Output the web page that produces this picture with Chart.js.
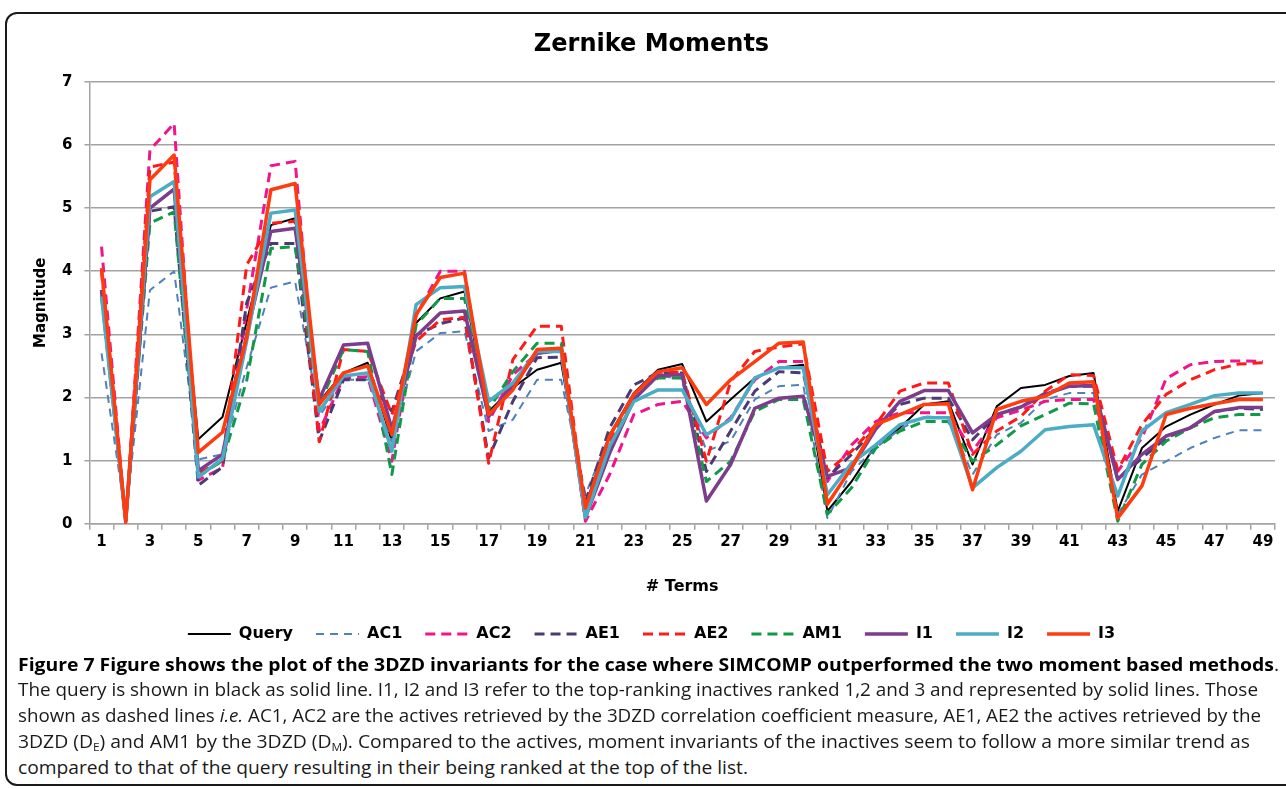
<!DOCTYPE html>
<html>
<head>
<meta charset="utf-8">
<script src="https://cdn.jsdelivr.net/npm/chart.js@4"></script>
<style>
  html, body { margin:0; padding:0; background:#fff; width:1286px; height:789px; overflow:hidden; }
  #frame { position:absolute; left:5px; top:12px; width:1300px; height:774px; border:2px solid #1a1a1a; border-radius:12px; box-sizing:border-box; }
  #wrap { position:absolute; left:18px; top:0px; width:1268px; height:660px; }
  .cap { position:absolute; left:18px; height:26px; line-height:26px; font-family:"Open Sans", sans-serif; font-size:18px; color:#1a1a1a; white-space:nowrap; }
  .cap span.in { display:inline-block; transform-origin:0 50%; }
  .cap b { font-weight:700; color:#000; }
  .cap sub { font-size:11px; vertical-align:-3px; line-height:0; }
</style>
</head>
<body>
<div id="frame"></div>
<div id="wrap"><canvas id="c" width="1268" height="660"></canvas></div>

<div class="cap" style="top:651px" data-w="1261"><span class="in"><b>Figure 7 Figure shows the plot of the 3DZD invariants for the case where SIMCOMP outperformed the two moment based methods</b>.</span></div>
<div class="cap" style="top:676px" data-w="1240"><span class="in">The query is shown in black as solid line. I1, I2 and I3 refer to the top-ranking inactives ranked 1,2 and 3 and represented by solid lines. Those</span></div>
<div class="cap" style="top:702px" data-w="1243"><span class="in">shown as dashed lines <i>i.e.</i> AC1, AC2 are the actives retrieved by the 3DZD correlation coefficient measure, AE1, AE2 the actives retrieved by the</span></div>
<div class="cap" style="top:728px" data-w="1232"><span class="in">3DZD (D<sub>E</sub>) and AM1 by the 3DZD (D<sub>M</sub>). Compared to the actives, moment invariants of the inactives seem to follow a more similar trend as</span></div>
<div class="cap" style="top:754px" data-w="730"><span class="in">compared to that of the query resulting in their being ranked at the top of the list.</span></div>

<script>
const terms = ['1','2','3','4','5','6','7','8','9','10','11','12','13','14','15','16','17','18','19','20','21','22','23','24','25','26','27','28','29','30','31','32','33','34','35','36','37','38','39','40','41','42','43','44','45','46','47','48','49'];

const seriesNames = ['Query','AC1','AC2','AE1','AE2','AM1','I1','I2','I3'];

const query = [3.6,0.05,5.0,5.31,1.34,1.69,3.2,4.73,4.84,1.94,2.39,2.55,1.31,3.18,3.57,3.68,1.78,2.15,2.44,2.55,0.3,1.41,2.07,2.44,2.53,1.62,1.97,2.31,2.47,2.52,0.2,0.67,1.25,1.52,1.89,1.94,0.94,1.86,2.15,2.2,2.34,2.39,0.2,1.2,1.54,1.73,1.89,2.03,2.07];
const ac1 = [2.7,0.1,3.7,4.0,1.02,1.1,2.48,3.74,3.84,1.7,2.28,2.28,1.3,2.73,3.02,3.05,1.47,1.65,2.28,2.28,0.46,1.41,1.99,2.34,2.3,1.15,1.31,1.97,2.18,2.2,0.09,0.83,1.2,1.5,1.7,1.68,0.78,1.41,1.6,1.97,2.07,2.07,0.15,0.78,0.99,1.2,1.36,1.48,1.48];
const ac2 = [4.39,0.02,5.92,6.34,0.69,0.89,3.4,5.67,5.74,1.47,2.31,2.33,0.99,3.3,4.0,4.0,1.62,2.36,2.7,2.75,0.04,0.78,1.73,1.89,1.94,1.36,1.68,2.28,2.57,2.57,0.67,1.25,1.62,1.76,1.76,1.76,1.15,1.68,1.8,1.94,1.97,1.97,0.83,1.36,2.3,2.52,2.57,2.58,2.57];
const ae1 = [3.7,0.05,4.95,5.02,0.61,0.9,3.5,4.44,4.44,1.31,2.28,2.28,1.78,2.99,3.17,3.26,1.04,1.94,2.63,2.64,0.35,1.52,2.2,2.39,2.39,0.83,1.47,2.1,2.41,2.39,0.73,1.1,1.52,1.89,1.99,1.99,1.33,1.73,1.85,2.07,2.18,2.18,0.7,1.04,1.36,1.52,1.78,1.83,1.81];
const ae2 = [4.0,0.05,5.65,5.73,0.8,1.0,4.1,4.76,4.79,1.3,2.76,2.73,1.73,2.89,3.23,3.27,0.96,2.6,3.13,3.13,0.15,1.3,2.05,2.4,2.4,0.99,2.25,2.73,2.8,2.85,0.83,1.15,1.57,2.1,2.23,2.23,1.1,1.47,1.7,2.1,2.36,2.35,0.85,1.57,2.05,2.28,2.44,2.53,2.55];
const am1 = [3.6,0.05,4.76,4.94,0.75,1.0,2.27,4.36,4.39,1.89,2.76,2.73,0.78,3.15,3.57,3.57,1.81,2.41,2.86,2.86,0.1,1.2,2.05,2.31,2.31,0.67,0.99,1.78,1.97,1.97,0.15,0.57,1.2,1.47,1.62,1.62,0.99,1.25,1.55,1.73,1.91,1.9,0.04,0.94,1.31,1.52,1.68,1.73,1.73];
const i1 = [3.7,0.05,5.0,5.3,0.84,1.1,3.0,4.63,4.68,1.97,2.83,2.86,1.5,2.97,3.34,3.37,1.7,2.2,2.7,2.75,0.1,1.12,1.97,2.35,2.36,0.36,0.94,1.83,1.99,2.02,0.75,0.89,1.5,1.94,2.11,2.11,1.44,1.73,1.85,2.05,2.18,2.19,0.7,1.1,1.39,1.52,1.78,1.84,1.84];
const i2 = [3.6,0.05,5.18,5.42,0.74,1.03,2.9,4.92,4.97,1.78,2.34,2.39,1.15,3.47,3.74,3.76,1.94,2.23,2.73,2.73,0.1,1.23,1.94,2.12,2.12,1.41,1.65,2.31,2.47,2.47,0.46,0.96,1.25,1.57,1.68,1.68,0.57,0.89,1.15,1.49,1.54,1.57,0.44,1.47,1.76,1.89,2.03,2.07,2.07];
const i3 = [4.05,0.03,5.45,5.84,1.13,1.45,2.95,5.29,5.39,1.89,2.39,2.5,1.41,3.31,3.9,3.97,1.73,2.12,2.76,2.78,0.25,1.39,2.05,2.41,2.47,1.89,2.28,2.57,2.86,2.88,0.31,0.89,1.57,1.73,1.89,1.9,0.54,1.81,1.94,2.02,2.23,2.25,0.09,0.6,1.73,1.83,1.9,1.97,1.97];

const yTicks = [0,1,2,3,4,5,6,7];

const FONT = '"DejaVu Sans", Verdana, sans-serif';
const GRID = '#a3a3a3';

const styles = [
  {color:'#000000', width:2,   dash:[]},
  {color:'#4f81bd', width:2,   dash:[8,6]},
  {color:'#f0158c', width:3,   dash:[10,6]},
  {color:'#4b3a73', width:3,   dash:[10,6]},
  {color:'#ff1a1a', width:3,   dash:[10,6]},
  {color:'#109a48', width:3,   dash:[10,6]},
  {color:'#7d3c8c', width:3.5, dash:[]},
  {color:'#4bacc6', width:3.5, dash:[]},
  {color:'#ff3c0f', width:3.5, dash:[]}
];
const values = [query, ac1, ac2, ae1, ae2, am1, i1, i2, i3];

const datasets = seriesNames.map((name, k) => ({
  label: name,
  data: values[k],
  borderColor: styles[k].color,
  backgroundColor: styles[k].color,
  borderWidth: styles[k].width,
  borderDash: styles[k].dash,
  borderJoinStyle: 'round',
  pointRadius: 0,
  pointHoverRadius: 0,
  tension: 0,
  fill: false,
  order: seriesNames.length - 1 - k
}));

new Chart(document.getElementById('c'), {
  type: 'line',
  data: { labels: terms, datasets },
  options: {
    responsive: false,
    animation: false,
    events: [],
    layout: { padding: { left: 10, right: 11, top: 0, bottom: 8 } },
    plugins: {
      title: {
        display: true, text: 'Zernike Moments', color: '#000',
        font: { family: FONT, size: 24, weight: 'bold' },
        padding: { top: 30, bottom: 23 }
      },
      legend: {
        position: 'bottom',
        labels: {
          usePointStyle: true, pointStyle: 'line', pointStyleWidth: 43,
          padding: 23, color: '#000',
          font: { family: FONT, size: 16, weight: 'bold' },
          sort: (a, b) => a.datasetIndex - b.datasetIndex,
          generateLabels: (chart) => {
            const items = Chart.defaults.plugins.legend.labels.generateLabels(chart);
            items.forEach(it => {
              const ds = chart.data.datasets[it.datasetIndex];
              it.lineDash = ds.borderDash;
              it.lineWidth = ds.borderWidth;
              it.strokeStyle = ds.borderColor;
              it.fillStyle = ds.borderColor;
              it.pointStyle = 'line';
            });
            return items;
          }
        }
      },
      tooltip: { enabled: false }
    },
    scales: {
      x: {
        type: 'category',
        offset: true,
        grid: { display: true, drawOnChartArea: false, offset: true, tickLength: 6, color: GRID, lineWidth: 1.5 },
        border: { display: true, color: GRID, width: 1.5 },
        ticks: {
          autoSkip: false, maxRotation: 0, minRotation: 0, padding: 3, color: '#000',
          font: { family: FONT, size: 15, weight: 'bold' },
          callback: (v, i) => (i % 2 === 0 ? terms[i] : '')
        },
        title: {
          display: true, text: '# Terms', color: '#000',
          font: { family: FONT, size: 16, weight: 'bold' },
          padding: { top: 23, bottom: 7 }
        }
      },
      y: {
        min: yTicks[0], max: yTicks[yTicks.length - 1],
        afterBuildTicks: (s) => { s.ticks = yTicks.map(v => ({ value: v })); },
        grid: { color: GRID, lineWidth: 1.5, tickLength: 5 },
        border: { display: true, color: GRID, width: 1.5 },
        ticks: { padding: 12, color: '#000', font: { family: FONT, size: 15, weight: 'bold' } },
        title: {
          display: true, text: 'Magnitude', color: '#000',
          font: { family: FONT, size: 15, weight: 'bold' },
          padding: { top: 4, bottom: 0 }
        }
      }
    }
  }
});

function fitCaption() {
  document.querySelectorAll('.cap').forEach(el => {
    const inner = el.querySelector('.in');
    inner.style.transform = 'none';
    const w = inner.getBoundingClientRect().width;
    const target = +el.dataset.w;
    if (w > 0) inner.style.transform = 'scaleX(' + (target / w) + ')';
  });
}
fitCaption();
if (document.fonts && document.fonts.ready) document.fonts.ready.then(fitCaption);
</script>
</body>
</html>
